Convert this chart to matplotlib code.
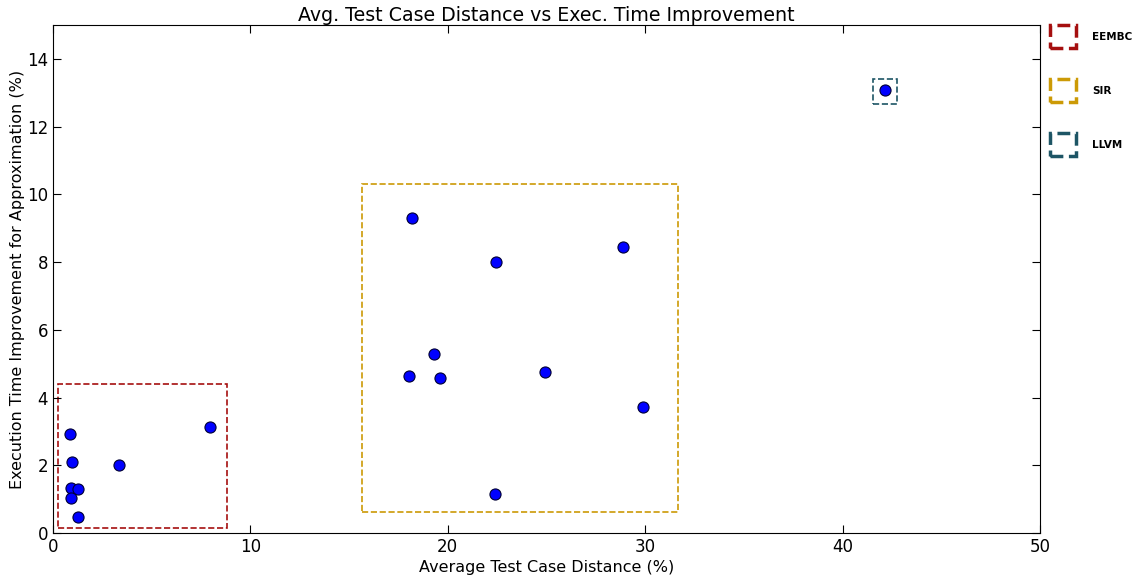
import matplotlib
matplotlib.use("Agg")
import matplotlib.pyplot as plt
from matplotlib.patches import Rectangle, Patch

# benchmark points: avg test case distance (%), exec time improvement (%)
eembc_x = [0.86, 0.95, 0.90, 1.25, 0.90, 1.28, 3.34, 7.95]
eembc_y = [2.91, 2.09, 1.33, 1.30, 1.03, 0.48, 2.00, 3.12]
sir_x = [18.17, 22.43, 28.86, 19.32, 18.05, 19.60, 24.92, 29.87, 22.39]
sir_y = [9.29, 7.99, 8.46, 5.28, 4.64, 4.57, 4.74, 3.73, 1.15]
llvm_x = [42.15]
llvm_y = [13.08]

# group boxes: (x0, y0, x1, y1)
groups = ["EEMBC", "SIR", "LLVM"]
group_colors = ["#a50f0f", "#cc9a06", "#1d5565"]
group_boxes = [(0.27, 0.15, 8.83, 4.40),
               (15.64, 0.63, 31.68, 10.30),
               (41.52, 12.66, 42.77, 13.42)]

fig = plt.figure(figsize=(11.45, 5.75), dpi=100)
ax = fig.add_axes([0.0463, 0.073, 0.862, 0.8835])

xs = eembc_x + sir_x + llvm_x
ys = eembc_y + sir_y + llvm_y
ax.plot(xs, ys, "o", color="blue", markeredgecolor="#000033", markersize=8,
        markeredgewidth=0.8, zorder=3)

for (x0, y0, x1, y1), c in zip(group_boxes, group_colors):
    ax.add_patch(Rectangle((x0, y0), x1 - x0, y1 - y0, fill=False,
                           edgecolor=c, linestyle="--", linewidth=1.2))

ax.set_xlim(0, 50)
ax.set_ylim(0, 15)
ax.set_xticks(range(0, 51, 10))
ax.set_yticks(range(0, 15, 2))
ax.tick_params(direction="in", top=True, right=True, labelsize=12, length=6)
ax.set_xlabel("Average Test Case Distance (%)", fontsize=11.5, labelpad=3)
ax.set_ylabel("Execution Time Improvement for Approximation (%)", fontsize=11.5)
ax.yaxis.set_label_coords(-0.028, 0.5)
ax.set_title("Avg. Test Case Distance vs Exec. Time Improvement", fontsize=13.7, pad=3)

handles = [Patch(facecolor="none", edgecolor=c, linestyle="--", linewidth=2.5,
                 label=g) for g, c in zip(groups, group_colors)]
leg = ax.legend(handles=handles, loc="upper left", bbox_to_anchor=(1.004, 1.012),
                frameon=False, handlelength=2.5, handleheight=3.0,
                labelspacing=3.0, handletextpad=1.5, borderpad=0.1,
                prop={"size": 7.5, "weight": "bold"})

fig.savefig("out.png", dpi=100)
